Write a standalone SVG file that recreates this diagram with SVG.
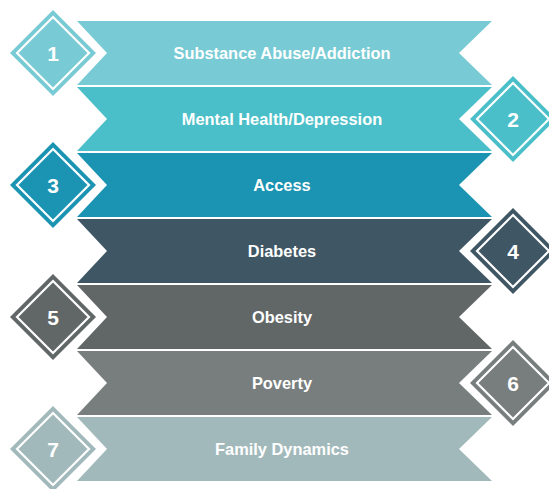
<svg xmlns="http://www.w3.org/2000/svg" width="549" height="489" viewBox="0 0 549 489">
<style>
.lbl{font-family:"Liberation Sans",Arial,sans-serif;font-weight:bold;font-size:16.4px;fill:#ffffff;text-anchor:middle}
.num{font-family:"Liberation Sans",Arial,sans-serif;font-weight:bold;font-size:21px;fill:#ffffff;text-anchor:middle}
.inner{fill:none;stroke:#ffffff;stroke-width:2.2}
</style>
<defs>
<path id="band" d="M77,0 H492 L459,32 L492,64 H77 L107,32 Z"/>
<path id="dia" d="M0,-43 L43,0 L0,43 L-43,0 Z"/>
<path id="din" d="M0,-36 L36,0 L0,36 L-36,0 Z"/>
</defs>
<rect width="549" height="489" fill="#ffffff"/>
<g id="node1">
<use href="#band" transform="translate(0,21)" fill="#78CBD4"/>
<text class="lbl" x="282" y="59">Substance Abuse/Addiction</text>
<g transform="translate(53,53)"><use href="#dia" fill="#78CBD4"/><use href="#din" class="inner"/></g>
<text class="num" x="53" y="61">1</text>
</g>
<g id="node2">
<use href="#band" transform="translate(0,87)" fill="#4BBFC9"/>
<text class="lbl" x="282" y="125">Mental Health/Depression</text>
<g transform="translate(513,119)"><use href="#dia" fill="#4BBFC9"/><use href="#din" class="inner"/></g>
<text class="num" x="513" y="127">2</text>
</g>
<g id="node3">
<use href="#band" transform="translate(0,153)" fill="#1B93B2"/>
<text class="lbl" x="282" y="191">Access</text>
<g transform="translate(53,185)"><use href="#dia" fill="#1B93B2"/><use href="#din" class="inner"/></g>
<text class="num" x="53" y="193">3</text>
</g>
<g id="node4">
<use href="#band" transform="translate(0,219)" fill="#3F5664"/>
<text class="lbl" x="282" y="257">Diabetes</text>
<g transform="translate(513,251)"><use href="#dia" fill="#3F5664"/><use href="#din" class="inner"/></g>
<text class="num" x="513" y="259">4</text>
</g>
<g id="node5">
<use href="#band" transform="translate(0,285)" fill="#616666"/>
<text class="lbl" x="282" y="323">Obesity</text>
<g transform="translate(53,317)"><use href="#dia" fill="#616666"/><use href="#din" class="inner"/></g>
<text class="num" x="53" y="325">5</text>
</g>
<g id="node6">
<use href="#band" transform="translate(0,351)" fill="#777E7D"/>
<text class="lbl" x="282" y="389">Poverty</text>
<g transform="translate(513,383)"><use href="#dia" fill="#777E7D"/><use href="#din" class="inner"/></g>
<text class="num" x="513" y="391">6</text>
</g>
<g id="node7">
<use href="#band" transform="translate(0,417)" fill="#A2B9BB"/>
<text class="lbl" x="282" y="455">Family Dynamics</text>
<g transform="translate(53,449)"><use href="#dia" fill="#A2B9BB"/><use href="#din" class="inner"/></g>
<text class="num" x="53" y="457">7</text>
</g>
<g id="connectors"/>
</svg>
